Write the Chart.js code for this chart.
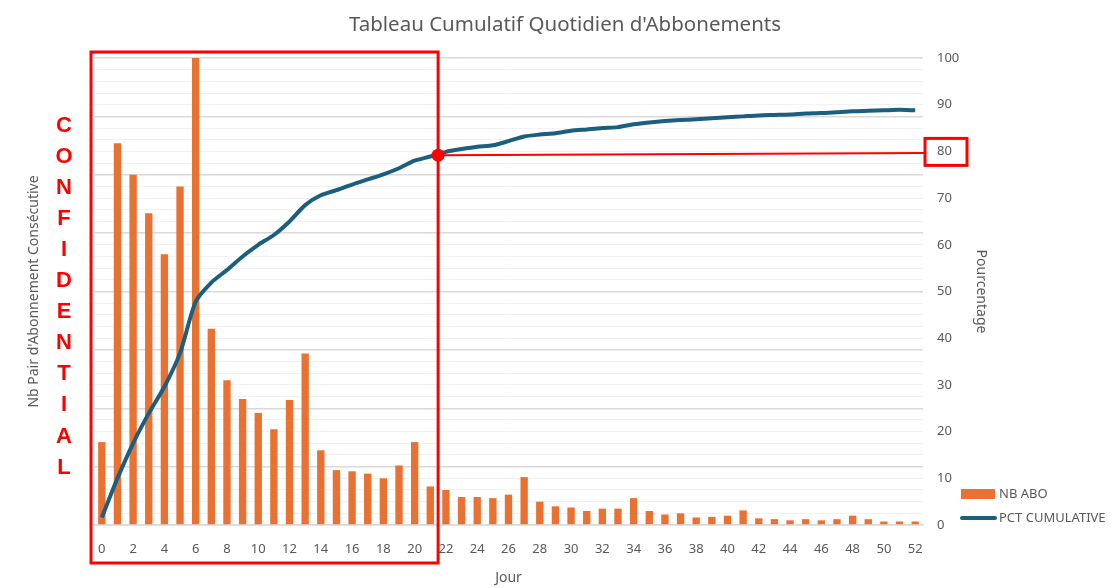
<!DOCTYPE html>
<html>
<head>
<meta charset="utf-8">
<script src="https://cdn.jsdelivr.net/npm/chart.js@4.4.1/dist/chart.umd.min.js"></script>
<style>
    html, body { margin: 0; padding: 0; background: #fff; }
    canvas { display: block; }
</style>
</head>
<body>
<canvas id="aboChart" width="1120" height="588"></canvas>
<script>
// Daily subscription data (left axis hidden)
const days = [];
for (let d = 0; d <= 52; d++) days.push(String(d));

const nbAbo = [71, 327, 300, 267, 232, 290, 400, 168, 124, 108, 96, 82, 107, 147, 64, 47, 46, 44, 40, 51,
    71, 33, 30, 24, 24, 23, 26, 41, 20, 16, 15, 12, 14, 14, 23, 12, 9, 10, 6.5, 7,
    8, 12.5, 5.7, 5, 4, 5, 4, 5, 8, 5, 3, 3, 3];

const pctCumulative = [1.6, 10, 17.5, 23.9, 29.6, 36.8, 47.8, 51.9, 54.6, 57.5, 60, 62.1, 65, 68.5, 70.6, 71.7,
    72.9, 74, 75.1, 76.4, 78, 78.9, 79.9, 80.5, 81, 81.3, 82.2, 83.2, 83.6, 83.9, 84.4, 84.7,
    85, 85.2, 85.8, 86.2, 86.5, 86.7, 86.9, 87.1, 87.3, 87.5, 87.7, 87.8, 87.9, 88.1, 88.2,
    88.4, 88.6, 88.7, 88.8, 88.9, 88.8];

const confidentialLetters = ['C', 'O', 'N', 'F', 'I', 'D', 'E', 'N', 'T', 'I', 'A', 'L'];

const CHART_TITLE = "Tableau Cumulatif Quotidien d'Abbonements";
const GREY_TEXT = '#595959';
const FONT = '"Noto Sans", "Liberation Sans", sans-serif';

// Title centred on the whole picture (Chart.js would centre it between the paddings)
const titlePlugin = {
    id: 'pageTitle',
    afterDraw(chart) {
        const ctx = chart.ctx;
        ctx.save();
        ctx.font = '20.5px ' + FONT;
        ctx.fillStyle = GREY_TEXT;
        ctx.textAlign = 'center';
        ctx.textBaseline = 'middle';
        ctx.fillText(CHART_TITLE, chart.width / 2 + 5, 25);
        ctx.restore();
    }
};

// Red highlight: box over first 22 days, dot where the curve crosses, line to the 80 label
const highlightPlugin = {
    id: 'highlight',
    afterDraw(chart) {
        const ctx = chart.ctx;
        const area = chart.chartArea;
        const x = chart.scales.x;
        const y1 = chart.scales.y1;

        const boxRight = (x.getPixelForValue(21) + x.getPixelForValue(22)) / 2;
        const boxLeft = area.left - 3;
        const boxTop = area.top - 6;
        const boxBottom = area.bottom + 38;
        const dotY = y1.getPixelForValue(79.2);
        const labelY = y1.getPixelForValue(80);

        ctx.save();
        ctx.strokeStyle = '#ff0000';
        ctx.lineWidth = 3;
        ctx.strokeRect(boxLeft, boxTop, boxRight - boxLeft, boxBottom - boxTop);

        // box around the "80" tick
        const rbLeft = area.right + 2;
        ctx.strokeRect(rbLeft, labelY - 13, 42, 27);

        ctx.lineWidth = 2;
        ctx.beginPath();
        ctx.moveTo(boxRight, dotY);
        ctx.lineTo(rbLeft, labelY + 1.5);
        ctx.stroke();

        ctx.fillStyle = '#ff0000';
        ctx.beginPath();
        ctx.arc(boxRight, dotY, 6.5, 0, Math.PI * 2);
        ctx.fill();

        // CONFIDENTIAL stamp
        ctx.font = 'bold 22px "Liberation Sans", Arial, sans-serif';
        ctx.textAlign = 'center';
        ctx.textBaseline = 'middle';
        const midY = (area.top + area.bottom) / 2 + 5;
        const step = 31.1;
        const startY = midY - step * (confidentialLetters.length - 1) / 2;
        confidentialLetters.forEach((ch, i) => {
            ctx.fillText(ch, area.left - 30, startY + i * step);
        });
        ctx.restore();
    }
};

// Small legend in the bottom-right corner
const legendPlugin = {
    id: 'cornerLegend',
    afterDraw(chart) {
        const ctx = chart.ctx;
        const area = chart.chartArea;
        const sets = chart.data.datasets;
        const lx = area.right + 38;
        const rows = [area.bottom - 31, area.bottom - 7];

        ctx.save();
        ctx.font = '13px ' + FONT;
        ctx.textBaseline = 'middle';

        // bar entry
        ctx.fillStyle = sets[0].backgroundColor;
        ctx.fillRect(lx, rows[0] - 5, 34, 10);
        ctx.fillStyle = GREY_TEXT;
        ctx.fillText(sets[0].label, lx + 38, rows[0]);

        // line entry
        ctx.strokeStyle = sets[1].borderColor;
        ctx.lineWidth = 4;
        ctx.lineCap = 'round';
        ctx.beginPath();
        ctx.moveTo(lx + 1, rows[1]);
        ctx.lineTo(lx + 34, rows[1]);
        ctx.stroke();
        ctx.fillText(sets[1].label, lx + 38, rows[1]);
        ctx.restore();
    }
};

function createChart() {
    const ctx = document.getElementById('aboChart').getContext('2d');

    new Chart(ctx, {
        data: {
            labels: days,
            datasets: [
                {
                    type: 'bar',
                    label: 'NB ABO',
                    data: nbAbo,
                    backgroundColor: '#E97132',
                    yAxisID: 'y',
                    barPercentage: 0.47,
                    categoryPercentage: 1,
                    order: 2
                },
                {
                    type: 'line',
                    label: 'PCT CUMULATIVE',
                    data: pctCumulative,
                    borderColor: '#1B5E7E',
                    borderWidth: 4,
                    pointRadius: 0,
                    tension: 0.25,
                    yAxisID: 'y1',
                    order: 1
                }
            ]
        },
        options: {
            responsive: false,
            animation: false,
            layout: {
                padding: { left: 26, right: 131, top: 58, bottom: 0 }
            },
            plugins: {
                legend: { display: false },
                tooltip: { enabled: false },
                title: { display: false }
            },
            scales: {
                x: {
                    type: 'category',
                    offset: true,
                    grid: { display: false, drawTicks: false },
                    border: { color: '#d9d9d9', width: 1.5 },
                    ticks: {
                        autoSkip: false,
                        maxRotation: 0,
                        padding: 16,
                        color: GREY_TEXT,
                        font: { family: FONT, size: 13 },
                        callback: (value, index) => index % 2 === 0 ? days[index] : ''
                    },
                    title: {
                        display: true,
                        text: 'Jour',
                        color: GREY_TEXT,
                        font: { family: FONT, size: 14 },
                        padding: { top: 6, bottom: 2 }
                    },
                    afterFit: (scale) => { scale.height = 63; }
                },
                y: {
                    position: 'left',
                    min: 0,
                    max: 400,
                    ticks: { stepSize: 10, display: false },
                    grid: {
                        drawTicks: false,
                        lineWidth: (c) => c.tick && c.tick.value % 50 === 0 ? 1.5 : 1,
                        color: (c) => c.tick && c.tick.value % 50 === 0 ? '#d9d9d9' : '#f2f2f2'
                    },
                    border: { display: false },
                    title: {
                        display: true,
                        text: "Nb Pair d'Abonnement Consécutive",
                        color: GREY_TEXT,
                        font: { family: FONT, size: 14 },
                        padding: 0
                    },
                    afterFit: (scale) => { scale.width = 68; }
                },
                y1: {
                    position: 'right',
                    min: 0,
                    max: 100,
                    ticks: {
                        stepSize: 10,
                        padding: 14,
                        color: GREY_TEXT,
                        font: { family: FONT, size: 13 }
                    },
                    grid: { display: false, drawTicks: false },
                    border: { display: false },
                    title: {
                        display: true,
                        text: 'Pourcentage',
                        color: GREY_TEXT,
                        font: { family: FONT, size: 14 },
                        padding: 0
                    },
                    afterFit: (scale) => { scale.width = 66; }
                }
            }
        },
        plugins: [titlePlugin, highlightPlugin, legendPlugin]
    });
}

document.addEventListener('DOMContentLoaded', createChart);
</script>
</body>
</html>
